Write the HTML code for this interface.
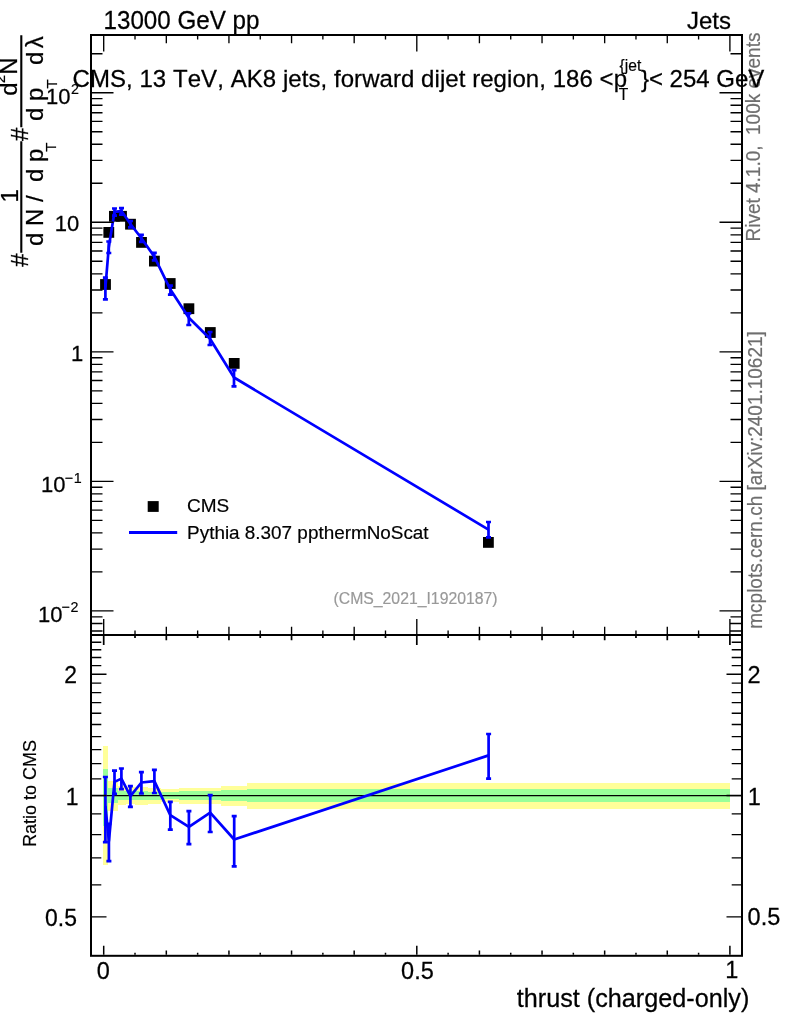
<!DOCTYPE html>
<html><head><meta charset="utf-8"><title>plot</title>
<style>html,body{margin:0;padding:0;background:#fff}svg{display:block;will-change:transform}</style></head>
<body>
<svg width="786" height="1024" viewBox="0 0 786 1024">
<rect x="0" y="0" width="786" height="1024" fill="#fff"/>
<polygon shape-rendering="crispEdges" fill="#ffff99" points="103.10,745.99 107.50,745.99 107.50,781.22 110.90,781.22 110.90,781.22 117.80,781.22 117.80,786.13 126.00,786.13 126.00,787.30 135.00,787.30 135.00,786.80 147.90,786.80 147.90,787.80 161.30,787.80 161.30,789.48 178.50,789.48 178.50,787.55 197.90,787.55 197.90,787.55 221.30,787.55 221.30,785.55 246.50,785.55 246.50,783.09 730.10,783.09 730.10,808.86 246.50,808.86 246.50,806.05 221.30,806.05 221.30,803.83 197.90,803.83 197.90,803.83 178.50,803.83 178.50,801.73 161.30,801.73 161.30,803.56 147.90,803.56 147.90,804.66 135.00,804.66 135.00,804.11 126.00,804.11 126.00,805.40 117.80,805.40 117.80,811.05 110.90,811.05 110.90,811.05 107.50,811.05 107.50,864.80 103.10,864.80"/>
<polygon shape-rendering="crispEdges" fill="#99ff99" points="103.10,769.23 107.50,769.23 107.50,788.30 110.90,788.30 110.90,788.30 117.80,788.30 117.80,791.01 126.00,791.01 126.00,791.35 135.00,791.35 135.00,791.35 147.90,791.35 147.90,791.52 161.30,791.52 161.30,791.86 178.50,791.86 178.50,790.92 197.90,790.92 197.90,790.92 221.30,790.92 221.30,789.99 246.50,789.99 246.50,789.26 730.10,789.26 730.10,801.97 246.50,801.97 246.50,801.19 221.30,801.19 221.30,800.20 197.90,800.20 197.90,800.20 178.50,800.20 178.50,799.21 161.30,799.21 161.30,799.57 147.90,799.57 147.90,799.75 135.00,799.75 135.00,799.75 126.00,799.75 126.00,800.11 117.80,800.11 117.80,803.01 110.90,803.01 110.90,803.01 107.50,803.01 107.50,826.43 103.10,826.43"/>
<line x1="91.0" y1="795.6" x2="742.0" y2="795.6" stroke="#000" stroke-width="1.4"/>
<rect x="100.10" y="279.10" width="10.8" height="10.8" fill="#000"/>
<rect x="103.40" y="227.00" width="10.8" height="10.8" fill="#000"/>
<rect x="109.00" y="210.90" width="10.8" height="10.8" fill="#000"/>
<rect x="116.10" y="210.90" width="10.8" height="10.8" fill="#000"/>
<rect x="125.10" y="218.80" width="10.8" height="10.8" fill="#000"/>
<rect x="136.10" y="237.00" width="10.8" height="10.8" fill="#000"/>
<rect x="149.00" y="255.70" width="10.8" height="10.8" fill="#000"/>
<rect x="164.80" y="278.10" width="10.8" height="10.8" fill="#000"/>
<rect x="183.50" y="303.30" width="10.8" height="10.8" fill="#000"/>
<rect x="204.90" y="327.10" width="10.8" height="10.8" fill="#000"/>
<rect x="228.80" y="358.00" width="10.8" height="10.8" fill="#000"/>
<rect x="483.00" y="537.00" width="10.8" height="10.8" fill="#000"/>
<polyline fill="none" stroke="#0000ff" stroke-width="2.7" stroke-linejoin="round" points="105.4,287.5 108.8,247.0 114.5,211.8 121.5,211.1 130.5,224.0 141.4,238.3 154.3,256.6 170.4,289.6 188.8,317.7 210.0,338.7 234.0,377.5 488.5,529.6"/>
<path d="M105.4 277.6V299.4M102.9 277.6h5M102.9 299.4h5" stroke="#0000ff" stroke-width="2.7" fill="none"/>
<path d="M108.8 241.5V253.0M106.3 241.5h5M106.3 253.0h5" stroke="#0000ff" stroke-width="2.7" fill="none"/>
<path d="M114.5 208.5V215.6M112.0 208.5h5M112.0 215.6h5" stroke="#0000ff" stroke-width="2.7" fill="none"/>
<path d="M121.5 208.1V214.6M119.0 208.1h5M119.0 214.6h5" stroke="#0000ff" stroke-width="2.7" fill="none"/>
<path d="M130.5 221.0V227.4M128.0 221.0h5M128.0 227.4h5" stroke="#0000ff" stroke-width="2.7" fill="none"/>
<path d="M141.4 234.9V241.8M138.9 234.9h5M138.9 241.8h5" stroke="#0000ff" stroke-width="2.7" fill="none"/>
<path d="M154.3 252.9V260.4M151.8 252.9h5M151.8 260.4h5" stroke="#0000ff" stroke-width="2.7" fill="none"/>
<path d="M170.4 285.6V294.6M167.9 285.6h5M167.9 294.6h5" stroke="#0000ff" stroke-width="2.7" fill="none"/>
<path d="M188.8 313.3V325.0M186.3 313.3h5M186.3 325.0h5" stroke="#0000ff" stroke-width="2.7" fill="none"/>
<path d="M210.0 332.0V345.0M207.5 332.0h5M207.5 345.0h5" stroke="#0000ff" stroke-width="2.7" fill="none"/>
<path d="M234.0 370.1V386.4M231.5 370.1h5M231.5 386.4h5" stroke="#0000ff" stroke-width="2.7" fill="none"/>
<path d="M488.5 522.0V537.3M486.0 522.0h5M486.0 537.3h5" stroke="#0000ff" stroke-width="2.7" fill="none"/>
<polyline fill="none" stroke="#0000ff" stroke-width="2.7" stroke-linejoin="round" points="105.4,806.0 108.9,841.0 114.5,781.9 121.4,778.6 130.4,796.1 141.4,782.5 154.4,781.1 170.3,815.1 188.9,826.9 210.2,812.6 234.2,839.5 488.6,755.4"/>
<path d="M105.4 777.0V842.1M102.9 777.0h5M102.9 842.1h5" stroke="#0000ff" stroke-width="2.7" fill="none"/>
<path d="M108.9 823.8V861.1M106.4 823.8h5M106.4 861.1h5" stroke="#0000ff" stroke-width="2.7" fill="none"/>
<path d="M114.5 770.7V793.9M112.0 770.7h5M112.0 793.9h5" stroke="#0000ff" stroke-width="2.7" fill="none"/>
<path d="M121.4 768.5V789.2M118.9 768.5h5M118.9 789.2h5" stroke="#0000ff" stroke-width="2.7" fill="none"/>
<path d="M130.4 786.1V806.8M127.9 786.1h5M127.9 806.8h5" stroke="#0000ff" stroke-width="2.7" fill="none"/>
<path d="M141.4 772.2V793.5M138.9 772.2h5M138.9 793.5h5" stroke="#0000ff" stroke-width="2.7" fill="none"/>
<path d="M154.4 769.9V793.0M151.9 769.9h5M151.9 793.0h5" stroke="#0000ff" stroke-width="2.7" fill="none"/>
<path d="M170.3 801.8V829.6M167.8 801.8h5M167.8 829.6h5" stroke="#0000ff" stroke-width="2.7" fill="none"/>
<path d="M188.9 811.1V844.2M186.4 811.1h5M186.4 844.2h5" stroke="#0000ff" stroke-width="2.7" fill="none"/>
<path d="M210.2 795.1V832.0M207.7 795.1h5M207.7 832.0h5" stroke="#0000ff" stroke-width="2.7" fill="none"/>
<path d="M234.2 816.2V866.3M231.7 816.2h5M231.7 866.3h5" stroke="#0000ff" stroke-width="2.7" fill="none"/>
<path d="M488.6 734.0V778.6M486.1 734.0h5M486.1 778.6h5" stroke="#0000ff" stroke-width="2.7" fill="none"/>
<g stroke="#000" stroke-width="2" fill="none">
<rect x="91.0" y="35.0" width="651.0" height="920.8"/>
<line x1="91.0" y1="635.0" x2="742.0" y2="635.0"/>
</g>
<path stroke="#000" stroke-width="1.35" fill="none" d="M103.70 36.00L103.70 51.50M103.70 619.00L103.70 635.00M135.01 36.00L135.01 39.50M135.01 630.40L135.01 635.00M166.32 36.00L166.32 43.30M166.32 626.80L166.32 635.00M197.63 36.00L197.63 39.50M197.63 630.40L197.63 635.00M228.94 36.00L228.94 43.30M228.94 626.80L228.94 635.00M260.25 36.00L260.25 39.50M260.25 630.40L260.25 635.00M291.56 36.00L291.56 43.30M291.56 626.80L291.56 635.00M322.87 36.00L322.87 39.50M322.87 630.40L322.87 635.00M354.18 36.00L354.18 43.30M354.18 626.80L354.18 635.00M385.49 36.00L385.49 39.50M385.49 630.40L385.49 635.00M416.80 36.00L416.80 51.50M416.80 619.00L416.80 635.00M448.11 36.00L448.11 39.50M448.11 630.40L448.11 635.00M479.42 36.00L479.42 43.30M479.42 626.80L479.42 635.00M510.73 36.00L510.73 39.50M510.73 630.40L510.73 635.00M542.04 36.00L542.04 43.30M542.04 626.80L542.04 635.00M573.35 36.00L573.35 39.50M573.35 630.40L573.35 635.00M604.66 36.00L604.66 43.30M604.66 626.80L604.66 635.00M635.97 36.00L635.97 39.50M635.97 630.40L635.97 635.00M667.28 36.00L667.28 43.30M667.28 626.80L667.28 635.00M698.59 36.00L698.59 39.50M698.59 630.40L698.59 635.00M729.90 36.00L729.90 51.50M729.90 619.00L729.90 635.00M92.00 630.97L102.50 630.97M741.00 630.97L730.50 630.97M92.00 623.45L102.50 623.45M741.00 623.45L730.50 623.45M92.00 616.83L102.50 616.83M741.00 616.83L730.50 616.83M92.00 610.90L113.50 610.90M741.00 610.90L719.50 610.90M92.00 571.90L102.50 571.90M741.00 571.90L730.50 571.90M92.00 549.09L102.50 549.09M741.00 549.09L730.50 549.09M92.00 532.90L102.50 532.90M741.00 532.90L730.50 532.90M92.00 520.35L102.50 520.35M741.00 520.35L730.50 520.35M92.00 510.09L102.50 510.09M741.00 510.09L730.50 510.09M92.00 501.42L102.50 501.42M741.00 501.42L730.50 501.42M92.00 493.90L102.50 493.90M741.00 493.90L730.50 493.90M92.00 487.28L102.50 487.28M741.00 487.28L730.50 487.28M92.00 481.35L113.50 481.35M741.00 481.35L719.50 481.35M92.00 442.35L102.50 442.35M741.00 442.35L730.50 442.35M92.00 419.54L102.50 419.54M741.00 419.54L730.50 419.54M92.00 403.35L102.50 403.35M741.00 403.35L730.50 403.35M92.00 390.80L102.50 390.80M741.00 390.80L730.50 390.80M92.00 380.54L102.50 380.54M741.00 380.54L730.50 380.54M92.00 371.87L102.50 371.87M741.00 371.87L730.50 371.87M92.00 364.35L102.50 364.35M741.00 364.35L730.50 364.35M92.00 357.73L102.50 357.73M741.00 357.73L730.50 357.73M92.00 351.80L113.50 351.80M741.00 351.80L719.50 351.80M92.00 312.80L102.50 312.80M741.00 312.80L730.50 312.80M92.00 289.99L102.50 289.99M741.00 289.99L730.50 289.99M92.00 273.80L102.50 273.80M741.00 273.80L730.50 273.80M92.00 261.25L102.50 261.25M741.00 261.25L730.50 261.25M92.00 250.99L102.50 250.99M741.00 250.99L730.50 250.99M92.00 242.32L102.50 242.32M741.00 242.32L730.50 242.32M92.00 234.80L102.50 234.80M741.00 234.80L730.50 234.80M92.00 228.18L102.50 228.18M741.00 228.18L730.50 228.18M92.00 222.25L113.50 222.25M741.00 222.25L719.50 222.25M92.00 183.25L102.50 183.25M741.00 183.25L730.50 183.25M92.00 160.44L102.50 160.44M741.00 160.44L730.50 160.44M92.00 144.25L102.50 144.25M741.00 144.25L730.50 144.25M92.00 131.70L102.50 131.70M741.00 131.70L730.50 131.70M92.00 121.44L102.50 121.44M741.00 121.44L730.50 121.44M92.00 112.77L102.50 112.77M741.00 112.77L730.50 112.77M92.00 105.25L102.50 105.25M741.00 105.25L730.50 105.25M92.00 98.63L102.50 98.63M741.00 98.63L730.50 98.63M92.00 92.70L113.50 92.70M741.00 92.70L719.50 92.70M92.00 53.70L102.50 53.70M741.00 53.70L730.50 53.70M92.00 916.80L106.50 916.80M741.00 916.80L726.50 916.80M92.00 884.89L101.30 884.89M741.00 884.89L731.70 884.89M92.00 857.92L101.30 857.92M741.00 857.92L731.70 857.92M92.00 834.55L101.30 834.55M741.00 834.55L731.70 834.55M92.00 813.94L101.30 813.94M741.00 813.94L731.70 813.94M92.00 795.50L106.50 795.50M741.00 795.50L726.50 795.50M92.00 778.82L101.30 778.82M741.00 778.82L731.70 778.82M92.00 763.59L101.30 763.59M741.00 763.59L731.70 763.59M92.00 749.59L101.30 749.59M741.00 749.59L731.70 749.59M92.00 736.62L101.30 736.62M741.00 736.62L731.70 736.62M92.00 724.54L101.30 724.54M741.00 724.54L731.70 724.54M92.00 713.25L101.30 713.25M741.00 713.25L731.70 713.25M92.00 702.64L101.30 702.64M741.00 702.64L731.70 702.64M92.00 692.64L101.30 692.64M741.00 692.64L731.70 692.64M92.00 683.18L101.30 683.18M741.00 683.18L731.70 683.18M92.00 674.20L106.50 674.20M741.00 674.20L726.50 674.20M92.00 665.66L101.30 665.66M741.00 665.66L731.70 665.66M92.00 657.52L101.30 657.52M741.00 657.52L731.70 657.52M92.00 649.74L101.30 649.74M741.00 649.74L731.70 649.74M92.00 642.29L101.30 642.29M741.00 642.29L731.70 642.29"/>
<path stroke="#000" stroke-width="1.7" fill="none" d="M103.70 635.00L103.70 645.00M135.01 635.00L135.01 638.00M166.32 635.00L166.32 640.20M197.63 635.00L197.63 638.00M228.94 635.00L228.94 640.20M260.25 635.00L260.25 638.00M291.56 635.00L291.56 640.20M322.87 635.00L322.87 638.00M354.18 635.00L354.18 640.20M385.49 635.00L385.49 638.00M416.80 635.00L416.80 645.00M448.11 635.00L448.11 638.00M479.42 635.00L479.42 640.20M510.73 635.00L510.73 638.00M542.04 635.00L542.04 640.20M573.35 635.00L573.35 638.00M604.66 635.00L604.66 640.20M635.97 635.00L635.97 638.00M667.28 635.00L667.28 640.20M698.59 635.00L698.59 638.00M729.90 635.00L729.90 645.00"/>
<path stroke="#000" stroke-width="1.5" fill="none" d="M103.70 945.80L103.70 954.80M135.01 952.80L135.01 954.80M166.32 950.40L166.32 954.80M197.63 952.80L197.63 954.80M228.94 950.40L228.94 954.80M260.25 952.80L260.25 954.80M291.56 950.40L291.56 954.80M322.87 952.80L322.87 954.80M354.18 950.40L354.18 954.80M385.49 952.80L385.49 954.80M416.80 945.80L416.80 954.80M448.11 952.80L448.11 954.80M479.42 950.40L479.42 954.80M510.73 952.80L510.73 954.80M542.04 950.40L542.04 954.80M573.35 952.80L573.35 954.80M604.66 950.40L604.66 954.80M635.97 952.80L635.97 954.80M667.28 950.40L667.28 954.80M698.59 952.80L698.59 954.80M729.90 945.80L729.90 954.80"/>
<g font-family="'Liberation Sans', sans-serif" fill="#000" stroke="#000" stroke-width="0.3" style="font-kerning:none">
<g transform="translate(759.80 241.50) rotate(-90) scale(1 1.030)" stroke-width="0.18" fill="#6e6e6e" stroke="#6e6e6e">
<text x="0.00" font-size="19.00" xml:space="preserve">Rivet 4.1.0,  100k events</text>
</g>
<g transform="translate(762.20 628.70) rotate(-90) scale(1 1.030)" stroke-width="0.18" fill="#6e6e6e" stroke="#6e6e6e">
<text x="0.00" font-size="19.00" xml:space="preserve">mcplots.cern.ch [arXiv:2401.10621]</text>
</g>
<g transform="translate(103.50 28.70) scale(1 1.030)" stroke-width="0.25">
<text x="0.00" font-size="24.20" xml:space="preserve">13000 GeV pp</text>
</g>
<g transform="translate(730.90 28.60) scale(1 1.030)" stroke-width="0.25">
<text x="-44.02" font-size="24.00" xml:space="preserve">Jets</text>
</g>
<g transform="translate(72.50 86.60) scale(1 1.030)" stroke-width="0.25">
<text x="0.00" font-size="24.00" letter-spacing="0.060" xml:space="preserve">CMS, 13 TeV, AK8 jets, forward dijet region, 186 &lt;</text>
</g>
<g transform="translate(613.75 86.60) scale(1 1.030)" stroke-width="0.25">
<text x="0.00" font-size="24.00" xml:space="preserve">p</text>
</g>
<g transform="translate(619.60 71.00) scale(1 1.030)" stroke-width="0.18">
<text x="0.00" font-size="15.60" xml:space="preserve">{jet</text>
</g>
<g transform="translate(618.80 99.70) scale(1 1.030)" stroke-width="0.18">
<text x="0.00" font-size="15.60" xml:space="preserve">T</text>
</g>
<g transform="translate(640.90 86.60) scale(1 1.030)" stroke-width="0.25">
<text x="0.00" font-size="24.00" xml:space="preserve">}&lt; 254 GeV</text>
</g>
<g transform="translate(46.00 103.50) scale(1 1.030)" stroke-width="0.25">
<text x="0.00" font-size="22.00" xml:space="preserve">10</text>
</g>
<g transform="translate(71.00 93.90) scale(1 1.030)" stroke-width="0.18">
<text x="0.00" font-size="14.30" xml:space="preserve">2</text>
</g>
<g transform="translate(54.66 230.70) scale(1 1.030)" stroke-width="0.25">
<text x="0.00" font-size="22.00" xml:space="preserve">10</text>
</g>
<g transform="translate(70.90 360.80) scale(1 1.030)" stroke-width="0.25">
<text x="0.00" font-size="22.00" xml:space="preserve">1</text>
</g>
<g transform="translate(40.90 491.70) scale(1 1.030)" stroke-width="0.25">
<text x="0.00" font-size="22.00" xml:space="preserve">10</text>
</g>
<g transform="translate(64.70 482.70) scale(1 1.030)" stroke-width="0.18">
<text x="0.00" font-size="14.30" xml:space="preserve">−</text>
</g>
<g transform="translate(73.80 482.70) scale(1 1.030)" stroke-width="0.18">
<text x="0.00" font-size="14.30" xml:space="preserve">1</text>
</g>
<g transform="translate(38.10 621.70) scale(1 1.030)" stroke-width="0.25">
<text x="0.00" font-size="22.00" xml:space="preserve">10</text>
</g>
<g transform="translate(61.40 612.00) scale(1 1.030)" stroke-width="0.18">
<text x="0.00" font-size="14.30" xml:space="preserve">−</text>
</g>
<g transform="translate(70.60 612.00) scale(1 1.030)" stroke-width="0.18">
<text x="0.00" font-size="14.30" xml:space="preserve">2</text>
</g>
<g transform="translate(76.90 683.00) scale(1 1.030)" stroke-width="0.25">
<text x="-12.74" font-size="22.90" xml:space="preserve">2</text>
</g>
<g transform="translate(76.90 925.60) scale(1 1.030)" stroke-width="0.25">
<text x="-31.83" font-size="22.90" xml:space="preserve">0.5</text>
</g>
<g transform="translate(65.80 805.30) scale(1 1.030)" stroke-width="0.25">
<text x="0.00" font-size="22.90" xml:space="preserve">1</text>
</g>
<g transform="translate(747.60 682.80) scale(1 1.030)" stroke-width="0.25">
<text x="0.00" font-size="23.50" xml:space="preserve">2</text>
</g>
<g transform="translate(747.60 925.40) scale(1 1.030)" stroke-width="0.25">
<text x="0.00" font-size="23.50" xml:space="preserve">0.5</text>
</g>
<g transform="translate(747.85 804.80) scale(1 1.030)" stroke-width="0.25">
<text x="0.00" font-size="23.50" xml:space="preserve">1</text>
</g>
<g transform="translate(103.40 978.50) scale(1 1.030)" stroke-width="0.25">
<text x="-6.53" font-size="23.50" xml:space="preserve">0</text>
</g>
<g transform="translate(417.40 978.50) scale(1 1.030)" stroke-width="0.25">
<text x="-16.33" font-size="23.50" xml:space="preserve">0.5</text>
</g>
<g transform="translate(725.30 977.80) scale(1 1.030)" stroke-width="0.25">
<text x="0.00" font-size="23.50" xml:space="preserve">1</text>
</g>
<g transform="translate(749.30 1006.60) scale(1 1.030)" stroke-width="0.25">
<text x="-232.50" font-size="25.20" xml:space="preserve">thrust (charged-only)</text>
</g>
<g transform="translate(36.40 846.90) rotate(-90) scale(1 1.030)" stroke-width="0.18">
<text x="0.00" font-size="18.00" xml:space="preserve">Ratio to CMS</text>
</g>
<g transform="translate(187.00 511.70) scale(1 1.000)" stroke-width="0.18">
<text x="0.00" font-size="19.00" xml:space="preserve">CMS</text>
</g>
<g transform="translate(187.10 538.60) scale(1 1.000)" stroke-width="0.18">
<text x="0.00" font-size="18.90" xml:space="preserve">Pythia 8.307 ppthermNoScat</text>
</g>
<g transform="translate(333.50 604.20) scale(1 1.010)" stroke-width="0.18" fill="#999999" stroke="#999999">
<text x="0.00" font-size="15.80" xml:space="preserve">(CMS_2021_I1920187)</text>
</g>
<g transform="translate(28.00 266.80) rotate(-90) scale(1 1.030)" stroke-width="0.25">
<text x="0.00" font-size="24.00" xml:space="preserve">#</text>
</g>
<g transform="translate(18.10 202.60) rotate(-90) scale(1 1.030)" stroke-width="0.25">
<text x="0.00" font-size="24.00" xml:space="preserve">1</text>
</g>
<g transform="translate(42.50 245.90) rotate(-90) scale(1 1.030)" stroke-width="0.25">
<text x="0.00" font-size="24.00" xml:space="preserve">d N / </text>
</g>
<g transform="translate(42.50 182.10) rotate(-90) scale(1 1.030)" stroke-width="0.25">
<text x="0.00" font-size="24.00" xml:space="preserve">d p</text>
</g>
<g transform="translate(55.70 151.70) rotate(-90) scale(1 1.030)" stroke-width="0.18">
<text x="0.00" font-size="15.00" xml:space="preserve">T</text>
</g>
<g transform="translate(27.80 140.90) rotate(-90) scale(1 1.030)" stroke-width="0.25">
<text x="0.00" font-size="24.00" xml:space="preserve">#</text>
</g>
<g transform="translate(17.20 95.80) rotate(-90) scale(1 1.030)" stroke-width="0.25">
<text x="0.00" font-size="24.00" xml:space="preserve">d</text>
</g>
<g transform="translate(4.80 83.15) rotate(-90) scale(1 1.030)" stroke-width="0.18">
<text x="0.00" font-size="15.00" xml:space="preserve">2</text>
</g>
<g transform="translate(17.20 74.80) rotate(-90) scale(1 1.030)" stroke-width="0.25">
<text x="0.00" font-size="24.00" xml:space="preserve">N</text>
</g>
<g transform="translate(43.00 120.90) rotate(-90) scale(1 1.030)" stroke-width="0.25">
<text x="0.00" font-size="24.00" xml:space="preserve">d p</text>
</g>
<g transform="translate(56.90 88.60) rotate(-90) scale(1 1.030)" stroke-width="0.18">
<text x="0.00" font-size="15.00" xml:space="preserve">T</text>
</g>
<g transform="translate(43.00 65.00) rotate(-90) scale(1 1.030)" stroke-width="0.25">
<text x="0.00" font-size="24.00" xml:space="preserve">d</text>
</g>
<g transform="translate(43.00 48.30) rotate(-90) scale(1 1.030)" stroke-width="0.25">
<text x="0.00" font-size="24.00" xml:space="preserve">λ</text>
</g>
</g>
<path stroke="#000" stroke-width="2.1" d="M21.3 141.2V252.8M21.3 35.2V127.2"/>
<rect x="147.7" y="501.1" width="11" height="10.8" fill="#000"/>
<line x1="129" y1="532.5" x2="177.2" y2="532.5" stroke="#0000ff" stroke-width="2.8"/>
</svg>
</body></html>
